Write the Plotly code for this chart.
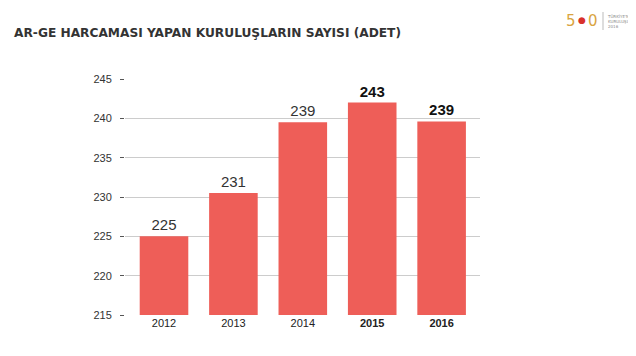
import plotly.graph_objects as go

years = ["2012", "2013", "2014", "2015", "2016"]
bar_values = [225, 230.5, 239.5, 242, 239.6]
bar_labels = ["225", "231", "239", "243", "239"]
highlight = [False, False, False, True, True]
y_ticks = [215, 220, 225, 230, 235, 240, 245]

bar_color = "#EE5E58"

texts = [f"<b>{l}</b>" if h else l for l, h in zip(bar_labels, highlight)]
text_colors = ["#111111" if h else "#333333" for h in highlight]
tick_text = [f"<b>{y}</b>" if h else y for y, h in zip(years, highlight)]

# page offset (body margin) of 8px
L, T, B, R = 117, 71, 49, 164
PW, PH = 636 - L - R, 356 - T - B


def px(x):
    return (x - L) / PW


def py(y):
    return 1 - (y - T) / PH


fig = go.Figure()
fig.add_trace(go.Bar(
    x=list(range(len(years))), y=bar_values, base=0,
    marker=dict(color=bar_color, line=dict(width=0)),
    width=0.7,
    text=texts, textposition="outside",
    textfont=dict(family="Liberation Sans, Arial, sans-serif", size=15, color=text_colors),
    cliponaxis=False,
    hoverinfo="skip",
))

fig.update_layout(
    width=636, height=356,
    margin=dict(l=L, r=R, t=T, b=B),
    paper_bgcolor="white", plot_bgcolor="white",
    showlegend=False,
    xaxis=dict(
        range=[-0.562, 4.553],
        tickmode="array", tickvals=list(range(len(years))), ticktext=tick_text,
        showgrid=False, zeroline=False, showline=False, ticks="",
        tickfont=dict(family="Liberation Sans, Arial, sans-serif", size=11, color="#222222"),
        fixedrange=True,
    ),
    yaxis=dict(
        range=[215, 245],
        tickmode="array", tickvals=y_ticks,
        showgrid=True, gridcolor="#CCCCCC", gridwidth=1,
        zeroline=False, showline=False,
        ticks="outside", ticklen=4, tickcolor="#555555", tickwidth=1,
        tickfont=dict(family="Liberation Sans, Arial, sans-serif", size=11, color="#333333"),
        ticklabelstandoff=6,
        fixedrange=True,
    ),
    annotations=[
        dict(text="<b>AR-GE HARCAMASI YAPAN KURULUŞLARIN SAYISI (ADET)</b>",
             xref="paper", yref="paper", x=px(4), y=py(25),
             xanchor="left", yanchor="middle", showarrow=False,
             font=dict(family="DejaVu Sans, sans-serif", size=12.2, color="#333333")),
        dict(text="5", xref="paper", yref="paper", x=px(563), y=py(13),
             xanchor="center", yanchor="middle", showarrow=False,
             font=dict(family="DejaVu Sans", size=15, color="#D9A441")),
        dict(text="●", xref="paper", yref="paper", x=px(574), y=py(12),
             xanchor="center", yanchor="middle", showarrow=False,
             font=dict(family="DejaVu Sans", size=9, color="#D8312C")),
        dict(text="0", xref="paper", yref="paper", x=px(585), y=py(13),
             xanchor="center", yanchor="middle", showarrow=False,
             font=dict(family="DejaVu Sans", size=15, color="#D9A441")),
        dict(text="TÜRKİYE'NİN<br>KURULUŞU<br>2016", xref="paper", yref="paper",
             x=px(597), y=py(13),
             xanchor="left", yanchor="middle", showarrow=False, align="left",
             font=dict(family="DejaVu Sans", size=4, color="#8A8A8A")),
    ],
    shapes=[
        dict(type="line", xref="paper", yref="paper",
             x0=px(595), x1=px(595), y0=py(4), y1=py(22),
             line=dict(color="#BBBBBB", width=1)),
    ],
)

fig.write_html("out.html")
